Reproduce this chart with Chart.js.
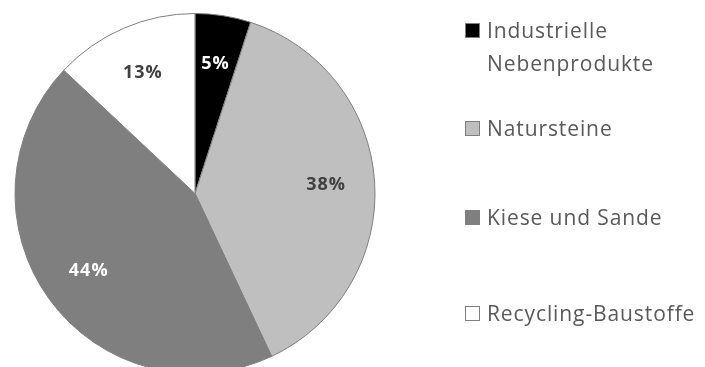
<!DOCTYPE html>
<html>
<head>
<meta charset="utf-8">
<script src="https://cdn.jsdelivr.net/npm/chart.js@4.4.1/dist/chart.umd.min.js"></script>
<style>
    html, body { margin: 0; padding: 0; background: #fff; overflow: hidden; }
    #wrap { position: relative; width: 705px; height: 367px; overflow: hidden; }
    #box { position: absolute; left: 0; top: 0; width: 705px; height: 374px; }
    #legend {
        position: absolute; left: 465px; top: 14px;
        display: flex; flex-direction: column;
        font-family: "Open Sans", "Noto Sans", sans-serif; font-size: 21px;
        letter-spacing: 0.9px; line-height: 33px; color: #595959;
        white-space: nowrap;
    }
    .item { display: flex; align-items: flex-start; }
    .item:nth-child(2) { margin-top: 32px; }
    .item:nth-child(3) { margin-top: 56px; }
    .item:nth-child(4) { margin-top: 63px; }
    .sw { width: 15px; height: 15px; margin: 9px 7px 0 0; box-sizing: border-box; border: 1px solid #7f7f7f; flex: none; }
</style>
</head>
<body>
<div id="wrap">
    <div id="box"><canvas id="pie"></canvas></div>
    <div id="legend"></div>
</div>
<script>
var labels = ['Industrielle\nNebenprodukte', 'Natursteine', 'Kiese und Sande', 'Recycling-Baustoffe']
var values = [5, 38, 44, 13]
var colors = ['#000000', '#bfbfbf', '#7f7f7f', '#ffffff']
var labelColors = ['#ffffff', '#404040', '#ffffff', '#404040']

// percent labels inside each slice
var sliceLabels = {
    id: 'sliceLabels',
    afterDatasetsDraw: function (chart) {
        var ctx = chart.ctx
        var arcs = chart.getDatasetMeta(0).data
        ctx.save()
        ctx.font = 'bold 18px "Open Sans", "Noto Sans", sans-serif'
        ctx.letterSpacing = '1px'
        ctx.textAlign = 'center'
        ctx.textBaseline = 'middle'
        arcs.forEach(function (arc, i) {
            var p = arc.getProps(['x', 'y', 'startAngle', 'endAngle', 'outerRadius'], true)
            var mid = (p.startAngle + p.endAngle) / 2
            var r = p.outerRadius * 0.73
            ctx.fillStyle = labelColors[i]
            ctx.fillText(values[i] + '%', p.x + Math.cos(mid) * r, p.y + Math.sin(mid) * r)
        })
        ctx.restore()
    }
}

new Chart(document.getElementById('pie'), {
    type: 'pie',
    data: {
        labels: labels,
        datasets: [{
            data: values,
            backgroundColor: colors,
            borderColor: '#7f7f7f',
            borderWidth: 1
        }]
    },
    options: {
        responsive: true,
        maintainAspectRatio: false,
        animation: false,
        layout: { padding: { left: 14, top: 13, right: 329, bottom: 0 } },
        plugins: {
            legend: { display: false },
            tooltip: { enabled: false }
        }
    },
    plugins: [sliceLabels]
})

// legend on the right
var legend = document.getElementById('legend')
labels.forEach(function (text, i) {
    var item = document.createElement('div')
    item.className = 'item'
    var sw = document.createElement('span')
    sw.className = 'sw'
    sw.style.background = colors[i]
    var t = document.createElement('span')
    t.innerHTML = text.replace('\n', '<br>')
    item.appendChild(sw)
    item.appendChild(t)
    legend.appendChild(item)
})
</script>
</body>
</html>
